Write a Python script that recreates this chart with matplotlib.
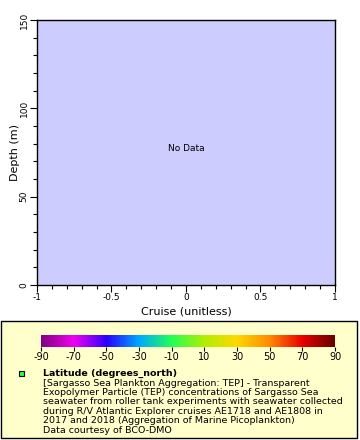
import numpy as np
import matplotlib
matplotlib.use("Agg")
import matplotlib.pyplot as plt
from matplotlib.colors import LinearSegmentedColormap, Normalize
from matplotlib.patches import Rectangle
from matplotlib.ticker import MultipleLocator
import matplotlib.colorbar as mcolorbar

# axis ranges (empty plot: no data)
x_limits = [-1, 1]
y_limits = [0, 150]
x_ticks = [-1, -0.5, 0, 0.5, 1]
x_ticklabels = ["-1", "-0.5", "0", "0.5", "1"]
y_ticks = [0, 50, 100, 150]

# colour bar
cbar_ticks = list(range(-90, 91, 20))
cbar_stops = [-90, -70, -50, -30, -10, 10, 30, 50, 70, 90]
cbar_colors = ["#800080", "#f000f0", "#2a00ff", "#00a8ff", "#22ff55",
               "#b0ee00", "#ffd800", "#ff8a00", "#ea0000", "#660000"]

legend_title = "Latitude (degrees_north)"
legend_lines = [
    "[Sargasso Sea Plankton Aggregation: TEP] - Transparent",
    "Exopolymer Particle (TEP) concentrations of Sargasso Sea",
    "seawater from roller tank experiments with seawater collected",
    "during R/V Atlantic Explorer cruises AE1718 and AE1808 in",
    "2017 and 2018 (Aggregation of Marine Picoplankton)",
    "Data courtesy of BCO-DMO",
]

W, H = 360, 440
fig = plt.figure(figsize=(W / 100, H / 100), dpi=100)
fig.patch.set_facecolor("white")

def box(x0, y0, x1, y1):
    return [x0 / W, 1 - y1 / H, (x1 - x0) / W, (y1 - y0) / H]

ax = fig.add_axes(box(37, 20, 335, 285))
ax.set_facecolor("#ccccff")
ax.set_xlim(x_limits)
ax.set_ylim(y_limits)
ax.set_xticks(x_ticks)
ax.set_xticklabels(x_ticklabels)
ax.set_yticks(y_ticks)
ax.xaxis.set_minor_locator(MultipleLocator(0.1))
ax.yaxis.set_minor_locator(MultipleLocator(10))
ax.tick_params(which="major", length=5, width=0.8, labelsize=6.5, pad=1)
ax.tick_params(which="minor", length=3, width=0.8)
for lab in ax.get_yticklabels():
    lab.set_rotation(90)
    lab.set_va("center")
for s in ax.spines.values():
    s.set_linewidth(1)
ax.set_xlabel("Cruise (unitless)", fontsize=8, labelpad=3)
ax.set_ylabel("Depth (m)", fontsize=8, labelpad=0)
ax.text(0, 77, "No Data", ha="center", va="center", fontsize=6.5)

# legend box
fig.patches.append(Rectangle((1 / W, 1 - 438 / H), 356 / W, 117 / H,
                             transform=fig.transFigure, facecolor="#ffffcc",
                             edgecolor="black", linewidth=1, zorder=-1))

cmap = LinearSegmentedColormap.from_list(
    "erddap", [((v + 90) / 180, c) for v, c in zip(cbar_stops, cbar_colors)])
cax = fig.add_axes(box(41, 335, 335, 347))
cb = mcolorbar.ColorbarBase(cax, cmap=cmap, norm=Normalize(-90, 90),
                            orientation="horizontal", ticks=cbar_ticks)
cb.set_ticklabels([str(t) for t in cbar_ticks])
cb.outline.set_visible(False)
cax.tick_params(length=3, width=0.8, labelsize=7, pad=0.5)

fig.patches.append(Rectangle((19 / W, 1 - 376 / H), 5 / W, 5 / H,
                             transform=fig.transFigure, facecolor="#33ff33",
                             edgecolor="black", linewidth=0.8))
fig.text(43 / W, 1 - 376 / H, legend_title, fontsize=6.8, fontweight="bold",
         va="baseline")
for i, line in enumerate(legend_lines):
    fig.text(43 / W, 1 - (385.5 + 9.4 * i) / H, line, fontsize=6.8,
             va="baseline")

fig.savefig("out.png", dpi=100)
